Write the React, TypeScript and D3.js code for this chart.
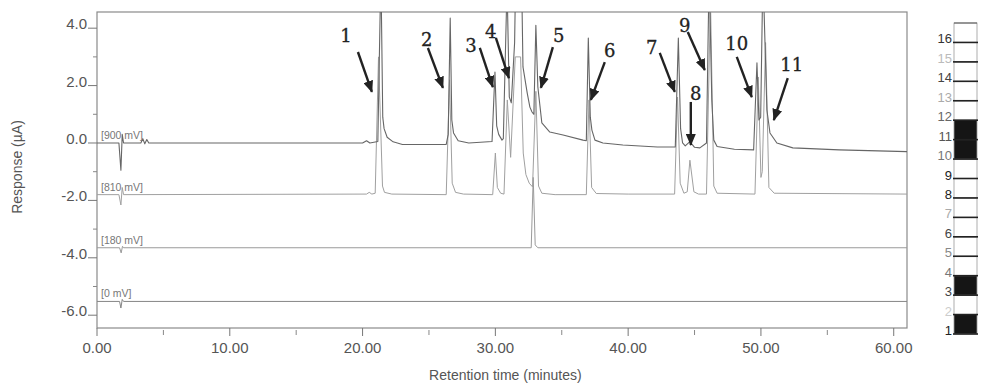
import React from "react";
import * as d3 from "d3";

// Chromatogram traces: [retention time (min), response (µA)] vertices per detector potential
const trace900: [number, number][] = [
  [0, 0.0], [1.65, 0.0], [1.8, -0.95], [1.9, 0.3], [2.0, 0.0],
  [3.3, 0.0], [3.45, 0.15], [3.6, -0.03], [3.75, 0.12], [3.9, 0.0],
  [20.0, 0.0], [20.3, 0.08], [20.55, 0.0],
  [21.15, 0.05], [21.38, 6.0], [21.52, 0.9], [21.62, 0.5], [21.85, 0.2], [22.3, 0.04], [23.0, -0.05],
  [26.3, -0.05], [26.45, 0.3], [26.6, 4.35], [26.72, 0.8], [26.85, 0.35], [27.2, 0.08], [28.0, 0.0],
  [29.75, 0.05], [29.97, 2.47], [30.1, 0.6], [30.25, 0.3], [30.5, 0.1], [30.6, 0.15],
  [30.88, 5.5], [31.05, 1.6], [31.2, 1.4], [31.45, 3.5], [31.6, 8.0], [31.9, 8.0],
  [32.08, 2.65], [32.4, 1.74], [32.6, 1.25], [32.76, 1.08], [32.9, 1.0],
  [33.05, 4.1], [33.2, 1.95], [33.5, 0.7], [34.1, 0.38], [35.1, 0.28], [36.6, 0.1], [36.85, 0.08],
  [37.0, 3.66], [37.15, 0.9], [37.27, 0.45], [37.5, 0.1], [38.1, 0.0], [39.6, -0.07], [42.2, -0.14], [43.55, -0.14],
  [43.78, 3.66], [43.95, 0.5], [44.1, 0.0], [44.3, -0.1], [44.65, 0.05], [45.0, -0.15], [45.4, -0.17], [45.9, 0.0],
  [46.1, 6.0], [46.3, 1.5], [46.45, 0.1], [46.7, -0.12], [48.0, -0.22], [49.45, -0.24],
  [49.7, 2.79], [49.85, 0.8], [49.98, 0.9],
  [50.15, 6.0], [50.45, 1.15], [50.68, 0.35], [51.2, 0.0], [52.4, -0.17], [55.9, -0.24], [61.0, -0.3],
];

const trace810: [number, number][] = [
  [0, -1.8], [1.65, -1.8], [1.8, -2.16], [1.9, -1.55], [2.0, -1.8],
  [20.3, -1.78], [20.5, -1.72], [20.7, -1.78],
  [20.95, -1.75], [21.2, 3.0], [21.5, -1.5], [21.65, -1.72], [22.2, -1.78],
  [26.3, -1.8], [26.55, 2.2], [26.75, -1.4], [27.0, -1.72], [27.6, -1.78],
  [29.8, -1.8], [30.0, -0.35], [30.15, -1.55], [30.4, -1.75], [30.65, -1.78],
  [30.9, 1.5], [31.15, -0.5], [31.5, 3.0], [31.9, 3.0],
  [32.1, -0.35], [32.3, -1.1], [32.55, -1.4], [32.8, -1.53],
  [33.05, 1.8], [33.25, -1.5], [33.5, -1.75], [34.5, -1.8],
  [36.85, -1.8], [37.05, 1.5], [37.25, -1.55], [37.6, -1.76], [40.0, -1.78],
  [43.5, -1.78], [43.72, 1.6], [43.92, -1.4], [44.2, -1.75], [44.45, -1.7],
  [44.65, -0.6], [44.95, -1.7], [45.3, -1.78], [45.9, -1.78],
  [46.2, 5.0], [46.45, -1.5], [46.7, -1.75], [49.55, -1.78],
  [49.8, 2.3], [50.0, -1.2], [50.1, -1.0],
  [50.35, 3.5], [50.6, -1.55], [51.0, -1.75], [61.0, -1.78],
];

const trace180: [number, number][] = [
  [0, -3.65], [1.7, -3.65], [1.82, -3.83], [1.92, -3.6], [2.0, -3.65],
  [32.7, -3.65], [32.85, -1.2], [33.0, -3.55], [33.2, -3.65], [61.0, -3.65],
];

const trace0: [number, number][] = [
  [0, -5.52], [1.7, -5.52], [1.8, -5.75], [1.9, -5.45], [2.0, -5.52], [61.0, -5.52],
];

const traces = [
  { label: "[900 mV]", points: trace900, color: "#666", width: 1.1 },
  { label: "[810 mV]", points: trace810, color: "#a0a0a0", width: 1 },
  { label: "[180 mV]", points: trace180, color: "#9a9a9a", width: 1 },
  { label: "[0 mV]", points: trace0, color: "#858585", width: 1 },
];

// Peak annotations: label position, arrow tail, arrow tip (time, response)
const peakLabels = ["1", "2", "3", "4", "5", "6", "7", "8", "9", "10", "11"];
const labelPos: [number, number][] = [
  [18.75, 3.76], [24.84, 3.59], [28.16, 3.41], [29.66, 3.87], [34.78, 3.76], [38.62, 3.24],
  [41.78, 3.31], [45.09, 1.71], [44.27, 4.11], [48.18, 3.48], [52.32, 2.75],
];
const arrowTail: [number, number][] = [
  [19.65, 3.17], [24.92, 3.31], [28.83, 3.31], [30.04, 3.66], [34.33, 3.34], [38.24, 2.82],
  [42.38, 3.14], [44.72, 1.43], [44.49, 3.87], [48.18, 3.0], [52.02, 2.26],
];
const arrowTip: [number, number][] = [
  [20.7, 1.78], [26.05, 1.92], [29.81, 1.95], [31.02, 2.26], [33.43, 1.92], [37.19, 1.5],
  [43.51, 1.78], [44.72, -0.07], [45.77, 2.54], [49.31, 1.6], [50.97, 0.8],
];

const xTicks = [0, 10, 20, 30, 40, 50, 60];
const xMinorTicks = [5, 15, 25, 35, 45, 55];
const yTicks = [4, 2, 0, -2, -4, -6];
const yMinorTicks = [3, 1, -1, -3, -5];

// Channel strip: 16 channels, active ones filled
const channels = d3.range(1, 17);
const activeChannels = [1, 3, 10, 11];
const channelLabelColor = [
  "#222", "#ccc", "#444", "#777", "#888", "#444", "#aaa", "#222",
  "#222", "#777", "#555", "#666", "#aaa", "#444", "#bbb", "#333",
];

const W = 982;
const H = 384;
const M = { left: 97, right: 907, top: 12, bottom: 328 };

export default function App() {
  const x = d3.scaleLinear().domain([0, 61]).range([M.left, M.right]);
  const y = d3.scaleLinear().domain([-6.446, 4.564]).range([M.bottom, M.top]);
  const line = d3
    .line<[number, number]>()
    .x((d) => x(d[0]))
    .y((d) => y(d[1]));

  const band = d3
    .scaleBand<number>()
    .domain([...channels].reverse())
    .range([23, 334])
    .padding(0);

  const sans = "'Liberation Sans', Arial, sans-serif";

  return (
    <svg
      width={W}
      height={H}
      style={{ position: "absolute", left: 0, top: 0, background: "#fff" }}
    >
      <defs>
        <clipPath id="plotClip">
          <rect x={M.left} y={M.top} width={M.right - M.left} height={M.bottom - M.top} />
        </clipPath>
        <marker
          id="arrowHead"
          viewBox="0 0 12 10"
          refX="11"
          refY="5"
          markerWidth="12"
          markerHeight="10"
          markerUnits="userSpaceOnUse"
          orient="auto"
        >
          <path d="M0,0 L12,5 L0,10 z" fill="#222" />
        </marker>
      </defs>

      {/* Frame */}
      <rect
        x={M.left}
        y={M.top}
        width={M.right - M.left}
        height={M.bottom - M.top}
        fill="none"
        stroke="#8a8a8a"
        strokeWidth={1.2}
      />

      {/* Y axis ticks and labels */}
      {yTicks.map((t) => (
        <g key={"y" + t}>
          <line x1={M.left - 9} x2={M.left} y1={y(t)} y2={y(t)} stroke="#777" strokeWidth={1} />
          <text
            x={M.left - 10}
            y={y(t) + 1}
            textAnchor="end"
            fontFamily={sans}
            fontSize={15}
            fill="#555"
          >
            {t.toFixed(1)}
          </text>
        </g>
      ))}
      {yMinorTicks.map((t) => (
        <line key={"ym" + t} x1={M.left - 4} x2={M.left} y1={y(t)} y2={y(t)} stroke="#888" strokeWidth={1} />
      ))}

      {/* X axis ticks and labels */}
      {xTicks.map((t) => (
        <g key={"x" + t}>
          <line x1={x(t)} x2={x(t)} y1={M.bottom} y2={M.bottom + 8} stroke="#777" strokeWidth={1} />
          <text
            x={x(t)}
            y={M.bottom + 25}
            textAnchor="middle"
            fontFamily={sans}
            fontSize={15}
            fill="#555"
          >
            {t.toFixed(2)}
          </text>
        </g>
      ))}
      {xMinorTicks.map((t) => (
        <line key={"xm" + t} x1={x(t)} x2={x(t)} y1={M.bottom + 2} y2={M.bottom + 7} stroke="#888" strokeWidth={1} />
      ))}

      {/* Axis titles */}
      <text
        x={(x(0) + x(60)) / 2 + 10}
        y={380}
        textAnchor="middle"
        fontFamily={sans}
        fontSize={14}
        fill="#555"
      >
        Retention time (minutes)
      </text>
      <text
        transform={`translate(22, ${167}) rotate(-90)`}
        textAnchor="middle"
        fontFamily={sans}
        fontSize={14}
        fill="#555"
      >
        Response (µA)
      </text>

      {/* Traces */}
      <g clipPath="url(#plotClip)">
        {[...traces].reverse().map((tr) => (
          <path
            key={tr.label}
            d={line(tr.points) || ""}
            fill="none"
            stroke={tr.color}
            strokeWidth={tr.width}
            strokeLinejoin="round"
          />
        ))}
      </g>

      {/* Trace potential labels */}
      {traces.map((tr) => (
        <text
          key={"l" + tr.label}
          x={x(0) + 4}
          y={y(tr.points[0][1]) - 4}
          fontFamily={sans}
          fontSize={10.5}
          fill="#777"
        >
          {tr.label}
        </text>
      ))}

      {/* Peak annotations */}
      {peakLabels.map((lab, i) => (
        <g key={"p" + lab}>
          <line
            x1={x(arrowTail[i][0])}
            y1={y(arrowTail[i][1])}
            x2={x(arrowTip[i][0])}
            y2={y(arrowTip[i][1])}
            stroke="#222"
            strokeWidth={2.4}
            markerEnd="url(#arrowHead)"
          />
          <text
            x={x(labelPos[i][0])}
            y={y(labelPos[i][1])}
            textAnchor="middle"
            dominantBaseline="central"
            fontFamily="'DejaVu Serif', 'Liberation Serif', serif"
            fontSize={18}
            fill="#222"
            stroke="#222"
            strokeWidth={0.3}
          >
            {lab}
          </text>
        </g>
      ))}

      {/* Channel strip */}
      <g>
        {channels.map((c) => {
          const top = band(c) as number;
          const h = band.bandwidth();
          const active = activeChannels.includes(c);
          return (
            <g key={"c" + c}>
              <rect
                x={954}
                y={top}
                width={23}
                height={h}
                fill={active ? "#151515" : "#fff"}
                stroke="#999"
                strokeWidth={0.8}
              />
              <line x1={953} x2={978} y1={top + h} y2={top + h} stroke="#222" strokeWidth={1.6} />
              <text
                x={952}
                y={top + h + 1}
                textAnchor="end"
                fontFamily={sans}
                fontSize={13}
                fill={channelLabelColor[c - 1]}
              >
                {c}
              </text>
            </g>
          );
        })}
        <line x1={954} x2={977} y1={23} y2={23} stroke="#555" strokeWidth={1} />
      </g>
    </svg>
  );
}
